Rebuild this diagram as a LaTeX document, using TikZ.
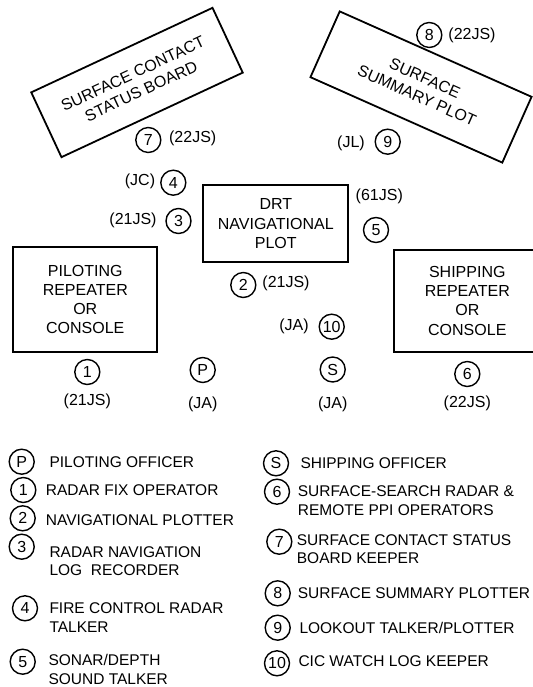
\documentclass[tikz,border=0pt]{standalone}
\usepackage{fontspec}
\setmainfont{Liberation Sans}
\usepackage{tikz}
\newcommand{\diagfont}{\fontsize{16}{19.3}\selectfont}
\newcommand{\keyfont}{\fontsize{15.5}{18.5}\selectfont}

\begin{document}
\begin{tikzpicture}[
  x=1pt, y=-1pt,
  box/.style={draw, line width=1.8pt, align=center, font=\diagfont, inner sep=2pt},
  crew/.style={draw, circle, line width=1.4pt, minimum size=25pt, inner sep=0pt,
               font=\diagfont},
  rate/.style={inner sep=0pt, font=\diagfont},
  keytxt/.style={anchor=west, align=left, inner sep=0pt, font=\keyfont}
]
\useasboundingbox (0,0) rectangle (532,687);
\node[box, rotate=25, minimum width=200, minimum height=71.5]  (contactbd) at (137,82.5) {SURFACE CONTACT\\STATUS BOARD};
\node[box, rotate=-24, minimum width=210, minimum height=72]   (summplot)  at (421,87)   {SURFACE\\SUMMARY PLOT};
\node[box, minimum width=145, minimum height=77.3]  (drt)      at (275.8,223.7) {DRT\\NAVIGATIONAL\\PLOT};
\node[box, minimum width=144, minimum height=104.4] (pilrep)   at (85.3,299.5)  {PILOTING\\REPEATER\\OR\\CONSOLE};
\node[box, minimum width=146, minimum height=101.7] (shiprep)  at (467.3,300.8) {SHIPPING\\REPEATER\\OR\\CONSOLE};
\node[crew] (c7)  at (148.3,140)   {7};
\node[crew] (c4)  at (173.3,182.7) {4};
\node[crew] (c3)  at (178.5,221)   {3};
\node[crew] (c8)  at (429.3,35)    {8};
\node[crew] (c9)  at (387.7,141.7) {9};
\node[crew] (c5)  at (376,230)     {5};
\node[crew] (c2)  at (243.3,285)   {2};
\node[crew] (c10) at (331.7,326.7) {10};
\node[crew] (c1)  at (87.3,372)    {1};
\node[crew] (cP)  at (202.7,370)   {P};
\node[crew] (cS)  at (332.7,369.5) {S};
\node[crew] (c6)  at (467.3,374)   {6};
\node[rate] (r7)  at (192.7,138)   {(22JS)};
\node[rate] (r4)  at (140,181.7)   {(JC)};
\node[rate] (r3)  at (133,220)     {(21JS)};
\node[rate] (r8)  at (472,35)      {(22JS)};
\node[rate] (r9)  at (351,143)     {(JL)};
\node[rate] (r5)  at (379.3,196)   {(61JS)};
\node[rate] (r2)  at (286,283.5)   {(21JS)};
\node[rate] (r10) at (294,326.5)   {(JA)};
\node[rate] (r1)  at (87.3,401.5)  {(21JS)};
\node[rate] (rP)  at (202.7,404)   {(JA)};
\node[rate] (rS)  at (332.7,404)   {(JA)};
\node[rate] (r6)  at (467.3,403)   {(22JS)};
\node[crew] (keyP)  at (21.7,461.7)  {P};
\node[crew] (key1)  at (23.3,490)    {1};
\node[crew] (key2)  at (22.7,518.3)  {2};
\node[crew] (key3)  at (21.7,546.7)  {3};
\node[crew] (key4)  at (25,608.3)    {4};
\node[crew] (key5)  at (22.7,661.7)  {5};
\node[crew] (keyS)  at (276,463.3)   {S};
\node[crew] (key6)  at (277,491.7)   {6};
\node[crew] (key7)  at (279.3,541.7) {7};
\node[crew] (key8)  at (277.7,593.3) {8};
\node[crew] (key9)  at (277.7,627.7) {9};
\node[crew] (key10) at (277,663.3)   {10};
\node[keytxt] (txtP)  at (49.3,461.7)  {PILOTING OFFICER};
\node[keytxt] (txt1)  at (45.7,490)    {RADAR FIX OPERATOR};
\node[keytxt] (txt2)  at (45.7,520)    {NAVIGATIONAL PLOTTER};
\node[keytxt] (txt3)  at (49.3,561.2)  {RADAR NAVIGATION\\LOG\ \ RECORDER};
\node[keytxt] (txt4)  at (49.3,617.5)  {FIRE CONTROL RADAR\\TALKER};
\node[keytxt] (txt5)  at (48.3,669.7)  {SONAR/DEPTH\\SOUND TALKER};
\node[keytxt] (txtS)  at (300.3,463.3) {SHIPPING OFFICER};
\node[keytxt] (txt6)  at (297.7,500.8) {SURFACE-SEARCH RADAR \&\\REMOTE PPI OPERATORS};
\node[keytxt] (txt7)  at (296.7,549.2) {SURFACE CONTACT STATUS\\BOARD KEEPER};
\node[keytxt] (txt8)  at (297.7,593.3) {SURFACE SUMMARY PLOTTER};
\node[keytxt] (txt9)  at (299.3,627.7) {LOOKOUT TALKER/PLOTTER};
\node[keytxt] (txt10) at (298.3,661.5) {CIC WATCH LOG KEEPER};
\end{tikzpicture}
\end{document}
